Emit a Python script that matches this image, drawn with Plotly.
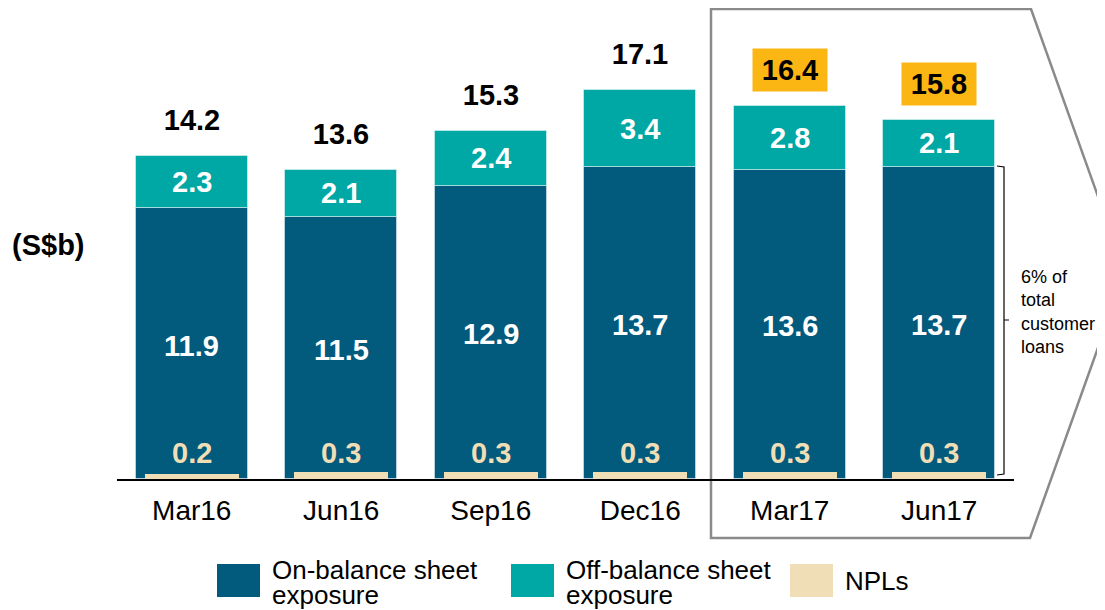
import plotly.graph_objects as go

# === Datos ===
categorias = ["Mar16", "Jun16", "Sep16", "Dec16", "Mar17", "Jun17"]
on_balance = [11.9, 11.5, 12.9, 13.7, 13.6, 13.7]
off_balance = [2.3, 2.1, 2.4, 3.4, 2.8, 2.1]
npls = [0.2, 0.3, 0.3, 0.3, 0.3, 0.3]
totales = [14.2, 13.6, 15.3, 17.1, 16.4, 15.8]
resaltado = [False, False, False, False, True, True]
series = ["On-balance sheet<br>exposure", "Off-balance sheet<br>exposure", "NPLs"]
nota = "6% of<br>total<br>customer<br>loans"

AZUL = "#025A7C"
TEAL = "#00A8A5"
BEIGE = "#F0DFB6"
NARANJA = "#FCB614"
FONT = "Arial, Liberation Sans, sans-serif"

# la pagina tiene 8px de margen en el body
OFF = 8
W, H = 1105 - OFF, 610 - OFF
L, R, T, B = 109, 91, 2, 131
x = list(range(len(categorias)))


# pixeles de la pantalla -> coordenadas paper
def px(v):
    return (v - OFF - L) / (W - L - R)


def py(v):
    return (H - B - (v - OFF)) / (H - T - B)


fig = go.Figure()

borde = dict(width=1, color="rgba(255,255,255,0.45)")
fig.add_trace(go.Bar(x=x, y=on_balance, base=0, width=0.75,
                     marker=dict(color=AZUL, line=borde), name=series[0]))
fig.add_trace(go.Bar(x=x, y=off_balance, base=on_balance, width=0.75,
                     marker=dict(color=TEAL, line=borde), name=series[1]))
fig.add_trace(go.Bar(x=x, y=npls, base=0, width=0.63,
                     marker=dict(color=BEIGE, line=dict(width=0)), name=series[2]))

# --- Etiquetas ---
for i in x:
    fig.add_annotation(x=i, y=on_balance[i] + off_balance[i] / 2, text=f"<b>{off_balance[i]}</b>",
                       showarrow=False, font=dict(size=29, color="white", family=FONT))
    fig.add_annotation(x=i, y=on_balance[i] / 2, text=f"<b>{on_balance[i]}</b>", yshift=-2,
                       showarrow=False, font=dict(size=29, color="white", family=FONT))
    fig.add_annotation(x=i, y=0, text=f"<b>{npls[i]}</b>", yanchor="middle", yshift=26,
                       showarrow=False, font=dict(size=29, color=BEIGE, family=FONT))
    fig.add_annotation(x=i, y=totales[i], text=f"<b>{totales[i]}</b>", yanchor="bottom", yshift=14,
                       width=74, height=42, borderpad=0,
                       bgcolor=NARANJA if resaltado[i] else "rgba(0,0,0,0)",
                       showarrow=False, font=dict(size=29, color="black", family=FONT))

fig.add_annotation(xref="paper", yref="paper", x=px(48), y=py(245), text="<b>(S$b)</b>",
                   xanchor="center", yanchor="middle",
                   showarrow=False, font=dict(size=29, color="black", family=FONT))

# --- Recuadro gris ---
puntos = [(711, 9), (1031, 9), (1125, 272), (1030, 538), (711, 538)]
camino = "M " + " L ".join(f"{px(a):.5f},{py(b):.5f}" for a, b in puntos) + " Z"
fig.add_shape(type="path", xref="paper", yref="paper", path=camino,
              line=dict(color="#8A8A8A", width=2.5), layer="below")

# --- Llave ---
llave = [(997, 166), (1004, 167), (1004, 320), (1009, 320), (1004, 320), (1004, 474), (997, 475)]
camino = "M " + " L ".join(f"{px(a):.5f},{py(b):.5f}" for a, b in llave)
fig.add_shape(type="path", xref="paper", yref="paper", path=camino,
              line=dict(color="black", width=1.2))
fig.add_annotation(xref="paper", yref="paper", x=px(1019), y=py(312), text=nota,
                   xanchor="left", yanchor="middle", align="left", showarrow=False,
                   font=dict(size=18, color="black", family=FONT))

# --- Leyenda ---
colores = [AZUL, TEAL, BEIGE]
cuadros = [217, 511, 790]
for nombre, color, x0 in zip(series, colores, cuadros):
    fig.add_shape(type="rect", xref="paper", yref="paper",
                  x0=px(x0), x1=px(x0 + 43), y0=py(597), y1=py(564),
                  fillcolor=color, line=dict(width=0))
    lineas = nombre.split("<br>")
    if len(lineas) == 1:
        posiciones = [581]
    else:
        posiciones = [570, 595]
    for texto, yy in zip(lineas, posiciones):
        fig.add_annotation(xref="paper", yref="paper", x=px(x0 + 53), y=py(yy), text=texto,
                           xanchor="left", yanchor="middle", align="left", showarrow=False,
                           font=dict(size=26, color="black", family=FONT))

fig.update_layout(
    width=W, height=H,
    margin=dict(l=L, r=R, t=T, b=B),
    barmode="overlay",
    showlegend=False,
    plot_bgcolor="white",
    paper_bgcolor="white",
    bargap=0,
    xaxis=dict(
        range=[-0.5, 5.5], tickmode="array", tickvals=x, ticktext=categorias,
        showline=True, linecolor="black", linewidth=1.5, showgrid=False,
        ticks="outside", ticklen=6, tickcolor="rgba(0,0,0,0)",
        tickfont=dict(size=28, color="black", family=FONT),
    ),
    yaxis=dict(range=[0, (H - T - B) / 22.75], visible=False),
)

fig.write_html("out.html")
